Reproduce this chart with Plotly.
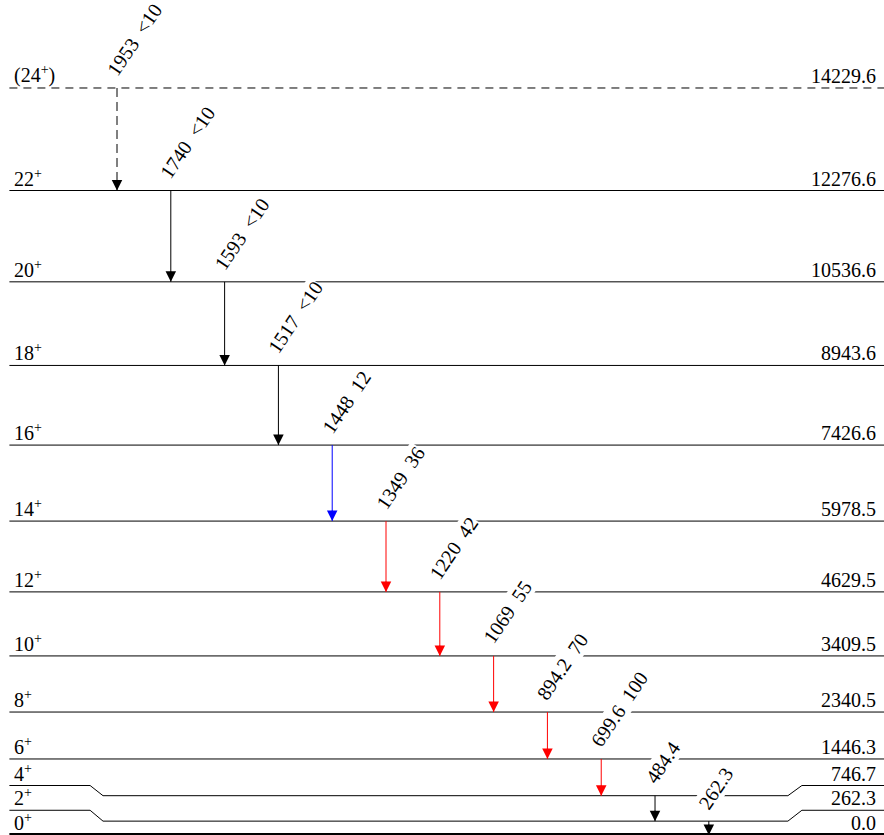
import plotly.graph_objects as go

# ---- data ----
spins = ["0<sup>+</sup>", "2<sup>+</sup>", "4<sup>+</sup>", "6<sup>+</sup>", "8<sup>+</sup>",
         "10<sup>+</sup>", "12<sup>+</sup>", "14<sup>+</sup>", "16<sup>+</sup>", "18<sup>+</sup>",
         "20<sup>+</sup>", "22<sup>+</sup>", "(24<sup>+</sup>)"]
level_energies = [0.0, 262.3, 746.7, 1446.3, 2340.5, 3409.5, 4629.5, 5978.5,
                  7426.6, 8943.6, 10536.6, 12276.6, 14229.6]
level_labels = ["0.0", "262.3", "746.7", "1446.3", "2340.5", "3409.5", "4629.5", "5978.5",
                "7426.6", "8943.6", "10536.6", "12276.6", "14229.6"]
# drawn height of the label ends of each level (spread apart near the ground state)
label_heights = [0.0, 469.0, 941.0, 1446.3, 2340.5, 3409.5, 4629.5, 5978.5,
                 7426.6, 8943.6, 10536.6, 12276.6, 14229.6]
tentative_levels = [False] * 12 + [True]

gamma_from = [12, 11, 10, 9, 8, 7, 6, 5, 4, 3, 2, 1]
gamma_to = [11, 10, 9, 8, 7, 6, 5, 4, 3, 2, 1, 0]
gamma_energies = ["1953", "1740", "1593", "1517", "1448", "1349", "1220", "1069",
                  "894.2", "699.6", "484.4", "262.3"]
gamma_intensities = ["<10", "<10", "<10", "<10", "12", "36", "42", "55", "70", "100", "", ""]
gamma_colors = ["black", "black", "black", "black", "blue", "red", "red", "red",
                "red", "red", "black", "black"]
gamma_tentative = [True] + [False] * 11

FONT = "Liberation Serif, Times New Roman, Times, serif"
fig = go.Figure()

# level lines
x_level = [0.0, 1.5, 1.74, 14.47, 14.73, 16.4]
for i, E in enumerate(level_energies):
    hL = label_heights[i]
    fig.add_trace(go.Scatter(
        x=x_level, y=[hL, hL, E, E, hL, hL], mode="lines",
        line=dict(color="black", width=4 if i == 0 else 1,
                  dash="8px,6px" if tentative_levels[i] else "solid"),
        hoverinfo="skip", showlegend=False))

annotations = []
for i in range(len(level_energies)):
    annotations.append(dict(x=0.05, y=label_heights[i], xref="x", yref="y",
                            text=spins[i], showarrow=False, xanchor="left", yanchor="bottom",
                            font=dict(family=FONT, size=20, color="black"), yshift=-1))
    annotations.append(dict(x=16.145, y=label_heights[i], xref="x", yref="y",
                            text=level_labels[i], showarrow=False, xanchor="right", yanchor="bottom",
                            font=dict(family=FONT, size=20, color="black"), yshift=-1))

# transitions
for k in range(len(gamma_energies)):
    xg = 2 + k
    Ehi = level_energies[gamma_from[k]]
    Elo = level_energies[gamma_to[k]]
    col = gamma_colors[k]
    fig.add_trace(go.Scatter(
        x=[xg, xg], y=[Ehi, Elo], mode="lines",
        line=dict(color=col, width=1, dash="9px,5px" if gamma_tentative[k] else "solid"),
        hoverinfo="skip", showlegend=False))
    annotations.append(dict(x=xg, y=Elo, xref="x", yref="y", ax=0, ay=-12,
                            axref="pixel", ayref="pixel", text="", showarrow=True,
                            arrowhead=2, arrowsize=2.1, arrowwidth=1, arrowcolor=col,
                            standoff=0))
    txt = gamma_energies[k] + ("\u2002" + gamma_intensities[k] if gamma_intensities[k] else "")
    annotations.append(dict(x=xg, y=Ehi, xref="x", yref="y", text=txt, showarrow=False,
                            textangle=-56, xanchor="left", yanchor="bottom",
                            xshift=-16, yshift=7, bgcolor="white", borderpad=0,
                            font=dict(family=FONT, size=20, color="black")))

fig.update_layout(
    width=884, height=835, margin=dict(l=0, r=0, t=0, b=0),
    paper_bgcolor="white", plot_bgcolor="white", showlegend=False,
    font=dict(family=FONT, size=20, color="black"),
    xaxis=dict(range=[-0.1747, 16.256], visible=False, fixedrange=True),
    yaxis=dict(range=[-2, 15906], visible=False, fixedrange=True),
    annotations=annotations,
)
fig.write_html("out.html", config={"displayModeBar": False},
               post_script="document.body.style.margin='0';document.body.style.overflow='hidden';")
